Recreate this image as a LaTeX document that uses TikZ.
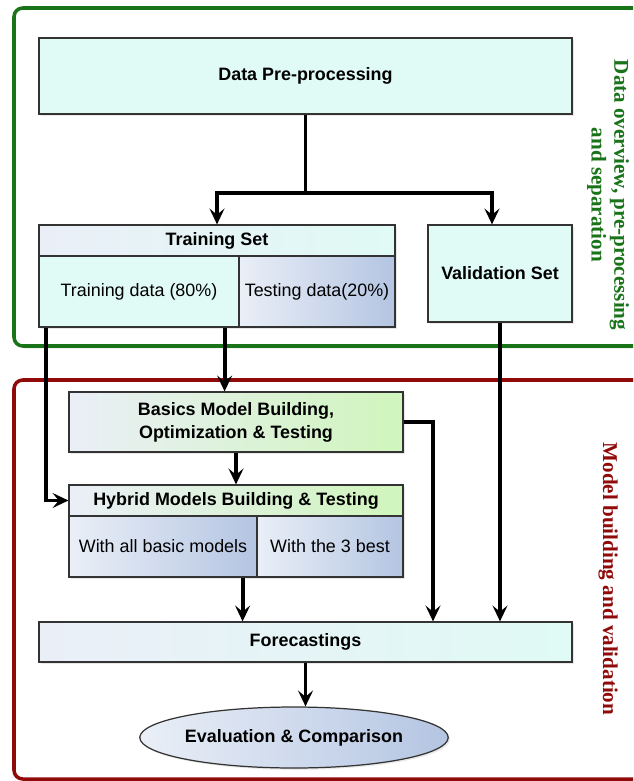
\documentclass[tikz,border=0pt]{standalone}
\usepackage{fontspec}
\setmainfont{Liberation Serif}
\setsansfont{Liberation Sans}
\usetikzlibrary{arrows.meta, shapes.geometric, shadows}
\definecolor{framegreen}{RGB}{25,115,25}
\definecolor{framered}{RGB}{145,10,10}
\definecolor{cyanfill}{RGB}{224,250,245}
\definecolor{greyblue}{RGB}{234,239,247}
\definecolor{bluefill}{RGB}{180,197,226}
\definecolor{greenfill}{RGB}{208,245,188}

\begin{document}
\begin{tikzpicture}[x=0.02cm, y=-0.02cm,
    box/.style={draw=black!80, line width=0.7pt, inner sep=0pt, align=center,
        font=\sffamily\fontsize{10.2}{13}\selectfont,
        drop shadow={opacity=0.18, shadow xshift=1pt, shadow yshift=-1pt}},
    headbox/.style={box, font=\sffamily\bfseries\fontsize{10.2}{13}\selectfont},
    flow/.style={line width=2.2pt, -{Stealth[length=9pt, width=8.5pt, inset=3.5pt]}},
    frame/.style={line width=2pt, rounded corners=5pt, fill=white,
        drop shadow={opacity=0.15, shadow xshift=1.5pt, shadow yshift=-1.5pt}},
    sidelabel/.style={rotate=-90, align=center, font=\bfseries\fontsize{12}{13}\selectfont}]

    \useasboundingbox (0,0) rectangle (633,781);
    \clip (0,0) rectangle (633,781);

    % the two stages
    \draw[frame, draw=framegreen] (14,8) rectangle (680,346);
    \draw[frame, draw=framered] (14,380) rectangle (680,779);

    \node[sidelabel, text=framegreen] (lblprep) at (608,195) {Data overview, pre-processing\\and separation};
    \node[sidelabel, text=framered] (lblmodel) at (608,579) {Model building and validation};

    % first stage
    \node[headbox, fill=cyanfill, minimum width=10.66cm, minimum height=1.52cm] (pre) at (305.5,76) {Data Pre-processing};

    \node[headbox, left color=greyblue, right color=cyanfill, minimum width=7.12cm, minimum height=0.62cm] (trhead) at (217,240.5) {Training Set};
    \node[box, fill=cyanfill, minimum width=4cm, minimum height=1.42cm] (trdata) at (139,291.5) {Training data (80\%)};
    \node[box, left color=greyblue, right color=bluefill, minimum width=3.12cm, minimum height=1.42cm] (tedata) at (317,291.5) {Testing data(20\%)};

    \node[headbox, fill=cyanfill, minimum width=2.88cm, minimum height=1.94cm] (valid) at (500,273.5) {Validation Set};

    % second stage
    \node[headbox, left color=greyblue, right color=greenfill, minimum width=6.68cm, minimum height=1.2cm] (basics) at (236,422) {Basics Model Building,\\Optimization \& Testing};

    \node[headbox, left color=greyblue, right color=greenfill, minimum width=6.68cm, minimum height=0.62cm] (hyhead) at (236,500.5) {Hybrid Models Building \& Testing};
    \node[box, left color=greyblue, right color=bluefill, minimum width=3.76cm, minimum height=1.22cm] (hyall) at (163,546.5) {With all basic models};
    \node[box, left color=greyblue, right color=bluefill, minimum width=2.92cm, minimum height=1.22cm] (hybest) at (330,546.5) {With the 3 best};

    \node[headbox, left color=greyblue, right color=cyanfill, minimum width=10.66cm, minimum height=0.8cm] (fore) at (305.5,642) {Forecastings};

    \node[headbox, ellipse, left color=greyblue, right color=bluefill, minimum width=6cm, minimum height=1.22cm] (eval) at (294,737.5) {Evaluation \& Comparison};

    % connectors
    \coordinate (split) at (305.5,193);
    \coordinate (vtop) at ([xshift=-0.16cm]valid.north);
    \coordinate (bend) at (433,422);

    \draw[line width=2.2pt] (pre.south) -- (split);
    \draw[flow] (split) -| (trhead.north);
    \draw[flow] (split) -| (vtop);

    \draw[flow] ([xshift=0.15cm]trdata.south west) |- (hyhead.west);
    \draw[flow] ([xshift=-0.3cm]trdata.south east) -- ([xshift=-0.3cm]trdata.south east |- basics.north);
    \draw[flow] (valid.south) -- (valid.south |- fore.north);

    \draw[flow] (basics.east) -- (bend) -- (bend |- fore.north);
    \draw[flow] (basics.south) -- (hyhead.north);
    \draw[flow] ([xshift=-0.3cm]hyall.south east) -- ([xshift=-0.3cm]hyall.south east |- fore.north);
    \draw[flow] (fore.south) -- (fore.south |- eval.north);

\end{tikzpicture}
\end{document}
